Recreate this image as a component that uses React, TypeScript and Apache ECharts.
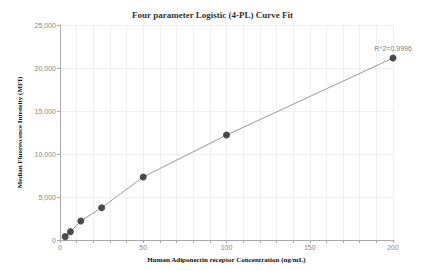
import React, { useEffect, useRef } from "react";
import * as echarts from "echarts";

const concentrations = [3.125, 6.25, 12.5, 25, 50, 100, 200];
const mfiValues = [390, 970, 2210, 3760, 7330, 12200, 21160];
const r2Label = "R^2=0.9996";
const titleText = "Four parameter Logistic (4-PL) Curve Fit";
const xName = "Human Adiponectin receptor Concentration (ng/mL)";
const yName = "Median Fluorescence Intensity (MFI)";

export default function App() {
  const ref = useRef<HTMLDivElement>(null);
  useEffect(() => {
    document.body.style.margin = "0";
    const chart = echarts.init(ref.current!, null, { renderer: "svg" });
    const pts = concentrations.map((c, i) => [c, mfiValues[i]]);
    chart.setOption({
      animation: false,
      title: {
        text: titleText,
        left: "center",
        top: 5,
        textStyle: { fontFamily: "Liberation Serif", fontWeight: "bold", fontSize: 9, color: "#333" },
      },
      grid: { left: 60, right: 32, top: 25, bottom: 31 },
      xAxis: {
        type: "value",
        min: 0,
        max: 200,
        interval: 10,
        name: xName,
        nameLocation: "middle",
        nameGap: 16,
        nameTextStyle: { fontFamily: "Liberation Serif", fontWeight: "bold", fontSize: 7, color: "#111" },
        axisLine: { show: true, lineStyle: { color: "#aaa" } },
        axisTick: { show: true, interval: 4, length: 3, lineStyle: { color: "#aaa" } },
        axisLabel: {
          interval: 4,
          fontSize: 7,
          color: "#888",
          margin: 4,
          formatter: (v: number) => (v % 50 === 0 ? String(v) : ""),
        },
        splitLine: { show: true, lineStyle: { color: "#eef0f6", width: 1 } },
      },
      yAxis: {
        type: "value",
        min: 0,
        max: 25000,
        interval: 5000,
        name: yName,
        nameLocation: "middle",
        nameGap: 35,
        nameTextStyle: { fontFamily: "Liberation Serif", fontWeight: "bold", fontSize: 7, color: "#111" },
        axisLine: { show: true, lineStyle: { color: "#aaa" } },
        axisTick: { show: true, length: 3, lineStyle: { color: "#aaa" } },
        axisLabel: {
          fontSize: 7,
          color: "#888",
          margin: 4,
          formatter: (v: number) => v.toLocaleString("en-US"),
        },
        splitLine: { show: true, lineStyle: { color: "#eef0f6", width: 1 } },
      },
      series: [
        {
          type: "line",
          data: pts,
          smooth: false,
          showSymbol: false,
          symbol: "none",
          lineStyle: { color: "#999", width: 1 },
          z: 2,
        },
        {
          type: "scatter",
          data: pts.map((p, i) =>
            i === pts.length - 1
              ? {
                  value: p,
                  label: {
                    show: true,
                    position: "top",
                    formatter: r2Label,
                    fontSize: 7,
                    color: "#555",
                    distance: 3,
                  },
                }
              : { value: p }
          ),
          symbolSize: 7,
          itemStyle: { color: "#222" },
          z: 3,
        },
      ],
    });
    return () => chart.dispose();
  }, []);
  return <div ref={ref} style={{ width: 425, height: 271 }} />;
}
